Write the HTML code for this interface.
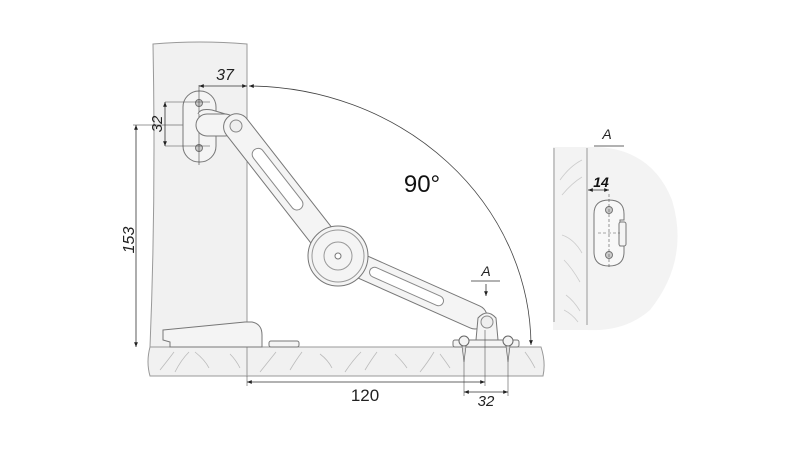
<!DOCTYPE html>
<html><head><style>html,body{margin:0;padding:0;background:#fff;}svg{display:block}</style></head>
<body>
<svg width="800" height="450" viewBox="0 0 800 450" xmlns="http://www.w3.org/2000/svg" font-family="Liberation Sans, sans-serif">
<defs>
<marker id="ar" viewBox="0 0 10 10" refX="10" refY="5" markerWidth="6" markerHeight="6" orient="auto-start-reverse"><path d="M0,1 L10,5 L0,9z" fill="#222"/></marker>
</defs>
<!-- side panel -->
<path d="M153,44 Q200,40 247,44 L247,347 L150,347 Q156,200 153,44z" fill="#f1f1f1" stroke="#999" stroke-width="1"/>
<!-- bottom board -->
<path d="M150,347 L541,347 Q546,362 543,376 L150,376 Q146,362 150,347z" fill="#f1f1f1" stroke="#999"/>
<line x1="247" y1="347" x2="247" y2="376" stroke="#999"/>
<g stroke="#bbb" stroke-width="0.8" fill="none">
<path d="M160,370 q8,-10 14,-18 M175,372 q6,-12 14,-20 M195,352 q10,8 14,16 M230,354 q6,6 10,14 M260,372 q8,-10 16,-20 M290,370 q6,-10 12,-18 M320,354 q8,6 12,14 M345,372 q8,-12 16,-20 M365,370 q6,-10 12,-18 M395,354 q8,8 12,14 M420,372 q8,-10 14,-20 M440,354 q6,8 10,14 M525,352 q6,8 10,16"/>
</g>
<!-- left flap -->
<path d="M163,330 L245,322 L252,322 Q262,324 262,335 L262,347 L170,347 L170,342 L163,340z" fill="#f4f4f4" stroke="#777"/>
<rect x="269" y="341" width="30" height="6" rx="2" fill="#f4f4f4" stroke="#777"/>
<!-- 153 dim -->
<line x1="136" y1="125" x2="136" y2="347" stroke="#333" stroke-width="0.8" marker-start="url(#ar)" marker-end="url(#ar)"/>
<line x1="133" y1="125" x2="220" y2="125" stroke="#333" stroke-width="0.6"/>
<text transform="translate(134,240) rotate(-90)" font-size="16" font-style="italic" text-anchor="middle" fill="#222">153</text>
<!-- bracket plate -->
<rect x="183" y="91" width="33" height="71" rx="16" fill="#f4f4f4" stroke="#777"/>
<circle cx="199" cy="103" r="3.5" fill="#ccc" stroke="#777"/>
<circle cx="199" cy="148" r="3.5" fill="#ccc" stroke="#777"/>
<line x1="199" y1="85" x2="199" y2="165" stroke="#444" stroke-width="0.6"/>
<line x1="165" y1="102" x2="210" y2="102" stroke="#444" stroke-width="0.6"/>
<line x1="165" y1="146" x2="210" y2="146" stroke="#444" stroke-width="0.6"/>
<line x1="165" y1="102" x2="165" y2="146" stroke="#333" stroke-width="0.8" marker-start="url(#ar)" marker-end="url(#ar)"/>
<text transform="translate(162,124) rotate(-90)" font-size="15" font-style="italic" text-anchor="middle" fill="#222">32</text>
<!-- 37 dim -->
<line x1="199" y1="86" x2="247" y2="86" stroke="#333" stroke-width="0.8" marker-start="url(#ar)" marker-end="url(#ar)"/>
<text x="225" y="80" font-size="16" font-style="italic" text-anchor="middle" fill="#222">37</text>
<!-- arc 90 -->
<path d="M249,86 A284,261 0 0 1 531,345" fill="none" stroke="#444" stroke-width="0.8" marker-start="url(#ar)" marker-end="url(#ar)"/>
<text x="422" y="192" font-size="24" text-anchor="middle" fill="#111">90°</text>
<!-- hinge upper -->
<path d="M198,114 Q200,108 212,110 L232,116" fill="#f4f4f4" stroke="#777"/>
<rect x="196" y="114" width="40" height="22" rx="11" fill="#f4f4f4" stroke="#777"/>
<g transform="translate(236,126) rotate(52)">
<rect x="-12" y="-13" width="170" height="26" rx="13" fill="#f4f4f4" stroke="#777"/>
<rect x="30" y="-6" width="75" height="12" rx="6" fill="#fff" stroke="#888"/>
</g>
<circle cx="236" cy="126" r="6" fill="#eee" stroke="#888"/>
<g transform="translate(338,256) rotate(24)">
<rect x="0" y="-12" width="162" height="24" rx="12" fill="#f4f4f4" stroke="#777"/>
<rect x="35" y="-5" width="80" height="10" rx="5" fill="#fff" stroke="#888"/>
</g>
<circle cx="338" cy="256" r="30" fill="#f4f4f4" stroke="#777"/>
<circle cx="338" cy="256" r="26" fill="none" stroke="#999"/>
<circle cx="338" cy="256" r="14" fill="none" stroke="#999"/>
<circle cx="338" cy="256" r="3" fill="#fff" stroke="#777"/>
<!-- lower pivot -->
<path d="M476,340 L478,318 Q487,308 496,318 L498,340z" fill="#f4f4f4" stroke="#777"/>
<circle cx="487" cy="322" r="6" fill="#eee" stroke="#888"/>
<rect x="453" y="340" width="66" height="7" rx="2" fill="#f4f4f4" stroke="#777"/>
<circle cx="464" cy="341" r="5" fill="#f4f4f4" stroke="#666"/>
<circle cx="508" cy="341" r="5" fill="#f4f4f4" stroke="#666"/>
<path d="M462,346 L466,346 L464,362z M506,346 L510,346 L508,362z" fill="#ddd" stroke="#666" stroke-width="0.7"/>
<!-- A marker -->
<text x="486" y="276" font-size="14" font-style="italic" text-anchor="middle" fill="#222">A</text>
<line x1="471" y1="281" x2="500" y2="281" stroke="#333" stroke-width="0.8"/>
<line x1="486" y1="284" x2="486" y2="296" stroke="#333" stroke-width="0.8" marker-end="url(#ar)"/>
<!-- bottom dims -->
<line x1="247" y1="376" x2="247" y2="386" stroke="#555" stroke-width="0.6"/>
<line x1="485" y1="330" x2="485" y2="386" stroke="#555" stroke-width="0.6"/>
<line x1="464" y1="360" x2="464" y2="396" stroke="#555" stroke-width="0.6"/>
<line x1="508" y1="360" x2="508" y2="396" stroke="#555" stroke-width="0.6"/>
<line x1="247" y1="382" x2="485" y2="382" stroke="#333" stroke-width="0.8" marker-start="url(#ar)" marker-end="url(#ar)"/>
<text x="365" y="401" font-size="17" text-anchor="middle" fill="#222">120</text>
<line x1="464" y1="392" x2="508" y2="392" stroke="#333" stroke-width="0.8" marker-start="url(#ar)" marker-end="url(#ar)"/>
<text x="486" y="406" font-size="15" font-style="italic" text-anchor="middle" fill="#222">32</text>
<!-- detail A -->
<path d="M553,147 L587,147 Q650,145 672,200 Q690,260 650,310 Q625,332 587,330 L553,330z" fill="#f3f3f3"/>
<line x1="554" y1="148" x2="554" y2="322" stroke="#999"/>
<line x1="587" y1="148" x2="587" y2="325" stroke="#999"/>
<g stroke="#ccc" stroke-width="0.8" fill="none">
<path d="M560,180 q10,-14 22,-20 M562,195 q10,-12 20,-18 M562,235 q12,4 20,18 M564,260 q8,8 16,22 M566,295 q8,6 14,16 M564,310 q8,4 14,12"/>
</g>
<text x="607" y="139" font-size="14" font-style="italic" text-anchor="middle" fill="#222">A</text>
<line x1="594" y1="146" x2="624" y2="146" stroke="#333" stroke-width="0.8"/>
<text x="601" y="187" font-size="14" font-weight="bold" font-style="italic" text-anchor="middle" fill="#111">14</text>
<line x1="588" y1="190" x2="609" y2="190" stroke="#333" stroke-width="0.8" marker-start="url(#ar)" marker-end="url(#ar)"/>
<path d="M594,214 Q594,200 609,200 Q624,200 624,214 L624,220 L620,220 L620,246 L624,246 L624,252 Q624,266 609,266 Q594,266 594,252z" fill="#f8f8f8" stroke="#777"/>
<rect x="619" y="222" width="7" height="24" rx="2" fill="#f4f4f4" stroke="#777"/>
<circle cx="609" cy="210" r="3.5" fill="#ccc" stroke="#777"/>
<circle cx="609" cy="255" r="3.5" fill="#ccc" stroke="#777"/>
<line x1="609" y1="194" x2="609" y2="268" stroke="#555" stroke-width="0.6" stroke-dasharray="3,2"/>
<line x1="598" y1="233" x2="620" y2="233" stroke="#555" stroke-width="0.6" stroke-dasharray="3,2"/>
</svg>
</body></html>
